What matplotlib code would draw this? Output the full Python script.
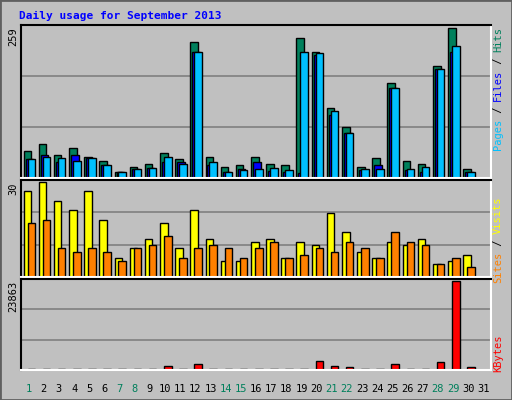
import matplotlib.pyplot as plt
from matplotlib.patches import Rectangle

days = list(range(1, 32))
hits = [46, 58, 39, 52, 37, 29, 10, 19, 24, 44, 32, 235, 36, 19, 22, 37,
        24, 22, 242, 218, 120, 88, 19, 34, 164, 29, 25, 193, 259, 15, 0]
files = [32, 39, 27, 39, 34, 22, 10, 15, 17, 27, 27, 218, 22, 10, 15, 27,
         12, 10, 8, 213, 108, 77, 14, 22, 156, 14, 10, 188, 217, 10, 0]
pages = [32, 36, 34, 29, 34, 22, 10, 15, 17, 36, 24, 217, 27, 10, 14, 15,
         17, 14, 217, 215, 115, 78, 15, 15, 156, 15, 19, 188, 228, 10, 0]
visits = [27, 30, 24, 21, 27, 18, 6, 9, 12, 17, 9, 21, 12, 5, 5, 11,
          12, 6, 11, 10, 20, 14, 8, 6, 11, 10, 12, 4, 5, 7, 0]
sites = [17, 18, 9, 8, 9, 8, 5, 9, 10, 13, 6, 9, 10, 9, 6, 9,
         11, 6, 7, 9, 8, 11, 9, 6, 14, 11, 10, 4, 6, 3, 0]
kbytes = [150, 150, 150, 150, 150, 150, 150, 150, 150, 1050, 150, 1570, 150, 150, 150, 150,
          150, 150, 150, 2360, 1050, 790, 150, 150, 1570, 150, 150, 2100, 23863, 790, 0]
weekend_days = [1, 7, 8, 14, 15, 21, 22, 28, 29]

grey = '#C0C0C0'
fig = plt.figure(figsize=(5.12, 4), dpi=100, facecolor=grey)
fig.patches.append(Rectangle((0, 0), 1, 1, transform=fig.transFigure,
                             fill=False, edgecolor='#606060', lw=2))
fig.text(19 / 512, 1 - 16 / 400, 'Daily usage for September 2013', color='#0000FF',
         family='DejaVu Sans Mono', weight='bold', fontsize=8, va='center')


def make_axes(top, bottom, ymax):
    ax = fig.add_axes([21 / 512, 1 - bottom / 400, 470 / 512, (bottom - top) / 400])
    ax.set_facecolor(grey)
    ax.set_xlim(0.5, 31.5)
    ax.set_ylim(0, ymax)
    for frac in (1 / 3, 2 / 3):
        ax.axhline(ymax * frac, color='#808080', lw=1.2, zorder=0)
    ax.set_xticks([])
    ax.set_yticks([])
    for side in ('top', 'left'):
        ax.spines[side].set_color('black')
        ax.spines[side].set_linewidth(1.5)
    for side in ('bottom', 'right'):
        ax.spines[side].set_color('white')
        ax.spines[side].set_linewidth(1.5)
    return ax


w = 0.5
kw = dict(width=w, align='edge', edgecolor='black', linewidth=1)

ax1 = make_axes(25, 178, 264)
ax1.bar([d - 0.33 for d in days], hits, color='#00805C', **kw)
ax1.bar([d - 0.2 for d in days], files, color='#0000FF', **kw)
ax1.bar([d - 0.07 for d in days], pages, color='#00C0FF', **kw)

ax2 = make_axes(180, 277, 30.5)
ax2.bar([d - 0.33 for d in days], visits, color='#FFFF00', **kw)
ax2.bar([d - 0.07 for d in days], sites, color='#FF8000', **kw)

ax3 = make_axes(279, 370, 24300)
ax3.bar([d - 0.07 for d in days], kbytes, color='#FF0000', **kw)

for d in days:
    fig.text((21 + (d - 0.5) * 470 / 31) / 512, 1 - 389 / 400, str(d),
             color='#00805C' if d in weekend_days else 'black',
             family='DejaVu Sans Mono', fontsize=7.5, ha='center', va='center')

mono = dict(family='DejaVu Sans Mono', fontsize=7.5, rotation=90)
fig.text(13 / 512, 1 - 27 / 400, '259', ha='center', va='top', **mono)
fig.text(13 / 512, 1 - 182 / 400, '30', ha='center', va='top', **mono)
fig.text(13 / 512, 1 - 281 / 400, '23863', ha='center', va='top', **mono)


def right_label(y_top, parts):
    # parts listed from top of the figure downwards
    y = y_top
    for txt, col in parts:
        fig.text(498 / 512, 1 - y / 400, txt, color=col, ha='center', va='top', **mono)
        y += len(txt) * 6.1


right_label(27, [('Hits', '#00805C'), (' / ', 'black'), ('Files', '#0000FF'),
                 (' / ', 'black'), ('Pages', '#00C0FF')])
right_label(197, [('Visits', '#FFFF00'), (' / ', 'black'), ('Sites', '#FF8000')])
right_label(335, [('KBytes', '#FF0000')])

fig.savefig('out.png', dpi=100, facecolor=grey)
